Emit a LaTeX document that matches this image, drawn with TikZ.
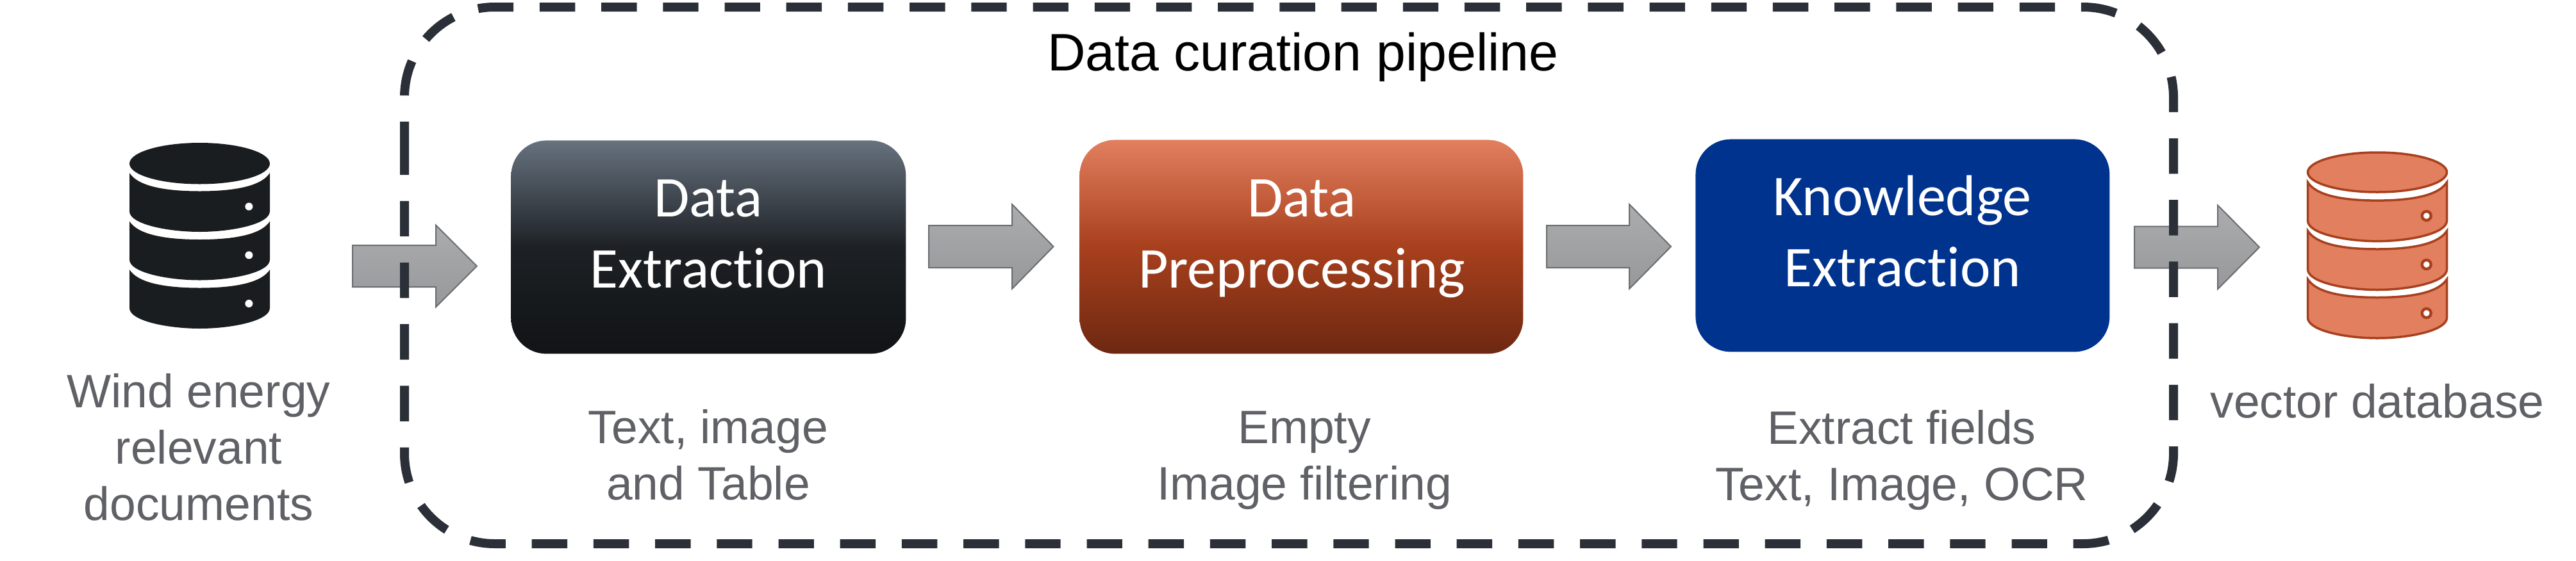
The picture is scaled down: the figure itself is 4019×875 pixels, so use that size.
\documentclass[tikz,border=0pt]{standalone}
\usepackage{fontspec}
\setmainfont{Liberation Sans}
\newfontfamily\boxfont[Ligatures=NoCommon]{Carlito}
\definecolor{labelgray}{HTML}{5F6166}
\definecolor{dashcol}{HTML}{2B3038}
\definecolor{arrowline}{HTML}{6C6D70}
\definecolor{arrowtop}{HTML}{ABACAE}
\definecolor{arrowbot}{HTML}{97989A}
\definecolor{dbblack}{HTML}{1A1D1F}
\definecolor{dborange}{HTML}{E27F5F}
\definecolor{dbrust}{HTML}{A8401D}
\definecolor{kblue}{HTML}{00338E}
\definecolor{gAa}{HTML}{67727F}\definecolor{gAb}{HTML}{1D2125}\definecolor{gAc}{HTML}{111315}
\definecolor{gBa}{HTML}{E27F5F}\definecolor{gBb}{HTML}{A8401D}\definecolor{gBc}{HTML}{6D2811}
\tikzset{
 x=0.5pt,y=-0.5pt,
 procbox/.style={rectangle,rounded corners=27.5pt,inner sep=0pt,anchor=north west},
 boxtext/.style={font=\boxfont\fontsize{45}{55.5}\selectfont,text=white,align=center,anchor=base},
 caption/.style={font=\fontsize{36.6}{43.8}\selectfont,text=labelgray,align=center,anchor=base},
 blockarrow/.style={draw=arrowline,line width=1pt,top color=arrowtop,bottom color=arrowbot,line join=miter},
 dbdisc/.style={fill=dbblack},
 dbdot/.style={fill=white},
 odisc/.style={fill=dborange,draw=dbrust,line width=1.75pt},
 odot/.style={fill=white,draw=dbrust,line width=2.2pt},
}
\pgfdeclareverticalshading{darkgrad}{100bp}{color(0bp)=(gAc);color(25bp)=(gAc);color(50bp)=(gAb);color(75bp)=(gAa);color(100bp)=(gAa)}
\pgfdeclareverticalshading{rustgrad}{100bp}{color(0bp)=(gBc);color(25bp)=(gBc);color(50bp)=(gBb);color(75bp)=(gBa);color(100bp)=(gBa)}
% disc: #1 style, #2 cx, #3 corner y, #4 half width
\newcommand\dbband[4]{%
 \path[#1] (#2-#4,#3) .. controls (#2-#4+12,#3+19) and (#2-60,#3+28.5) .. (#2,#3+28.5)
   .. controls (#2+60,#3+28.5) and (#2+#4-12,#3+19) .. (#2+#4,#3)
   -- (#2+#4,#3+60) .. controls (#2+#4,#3+80) and (#2+50,#3+92) .. (#2,#3+92)
   .. controls (#2-50,#3+92) and (#2-#4,#3+80) .. (#2-#4,#3+60) -- cycle;}
% block arrow: #1 tail x, #2 head base x, #3 tip x, #4 mid y, #5 shaft half, #6 head half
\newcommand\blockarr[6]{%
 \path[blockarrow] (#1,#4-#5) -- (#2,#4-#5) -- (#2,#4-#6) -- (#3,#4) -- (#2,#4+#6) -- (#2,#4+#5) -- (#1,#4+#5) -- cycle;}
\begin{document}
\begin{tikzpicture}
\useasboundingbox (0,0) rectangle (4019,875);
\fill[white] (0,0) rectangle (4019,875);

% black database
\path[dbdisc] (311.5,223) .. controls (371.5,223) and (421,237.5) .. (421,255.5)
  .. controls (421,273.5) and (371.5,287.5) .. (311.5,287.5)
  .. controls (251.5,287.5) and (202,273.5) .. (202,255.5)
  .. controls (202,237.5) and (251.5,223) .. (311.5,223) -- cycle;
\dbband{dbdisc}{311.5}{270}{109.5}
\dbband{dbdisc}{311.5}{345.5}{109.5}
\dbband{dbdisc}{311.5}{421}{109.5}
\fill[dbdot] (388.4,322.5) ellipse [x radius=6,y radius=6];
\fill[dbdot] (388.4,398.4) ellipse [x radius=6,y radius=6];
\fill[dbdot] (388.4,474) ellipse [x radius=6,y radius=6];

% orange database
\path[odisc] (3709,238) .. controls (3769,238) and (3817.5,252) .. (3817.5,269)
  .. controls (3817.5,286) and (3769,300) .. (3709,300)
  .. controls (3649,300) and (3600.5,286) .. (3600.5,269)
  .. controls (3600.5,252) and (3649,238) .. (3709,238) -- cycle;
\dbband{odisc}{3709}{284.6}{108.5}
\dbband{odisc}{3709}{360.5}{108.5}
\dbband{odisc}{3709}{436}{108.5}
\path[odot] (3785.7,337) ellipse [x radius=7,y radius=7];
\path[odot] (3785.7,413) ellipse [x radius=7,y radius=7];
\path[odot] (3785.7,489) ellipse [x radius=7,y radius=7];

% process boxes
\node[procbox,shading=darkgrad,minimum width=308pt,minimum height=166.5pt] (extract) at (797,219) {};
\node[procbox,shading=rustgrad,minimum width=346pt,minimum height=167pt] (prep) at (1684,218) {};
\node[procbox,fill=kblue,minimum width=323pt,minimum height=166pt] (know) at (2645,217) {};
\node[boxtext] (extractT) at (1105,449) {Data\\Extraction};
\node[boxtext] (prepT) at (2031,449) {Data\\Preprocessing};
\node[boxtext] (knowT) at (2968,447) {Knowledge\\Extraction};

% block arrows
\blockarr{550}{680}{744}{415.5}{32.5}{64}
\blockarr{1449}{1579}{1643.5}{385}{33}{66}
\blockarr{2413}{2542}{2607}{385}{33}{66}
\blockarr{3330}{3460}{3525}{386}{32.5}{65.5}

% dashed frame
\draw[dashcol,line width=7pt,rounded corners=70.5pt,dash pattern=on 27.7pt off 20.4pt]
 (631,217.6) -- (631,849) -- (3391,849) -- (3391,11) -- (631,11) -- (631,217.6);

% labels
\node[font=\fontsize{41.2}{49}\selectfont,text=black,anchor=base] (title) at (2033,110) {Data curation pipeline};
\node[caption] (c0) at (310,812) {Wind energy\\relevant\\documents};
\node[caption] (c1) at (1105,780) {Text, image\\and Table};
\node[caption] (c2) at (2035,780) {Empty\\Image filtering};
\node[caption] (c3) at (2967,781) {Extract fields\\Text, Image, OCR};
\node[caption] (c4) at (3709,652) {vector database};
\end{tikzpicture}
\end{document}
